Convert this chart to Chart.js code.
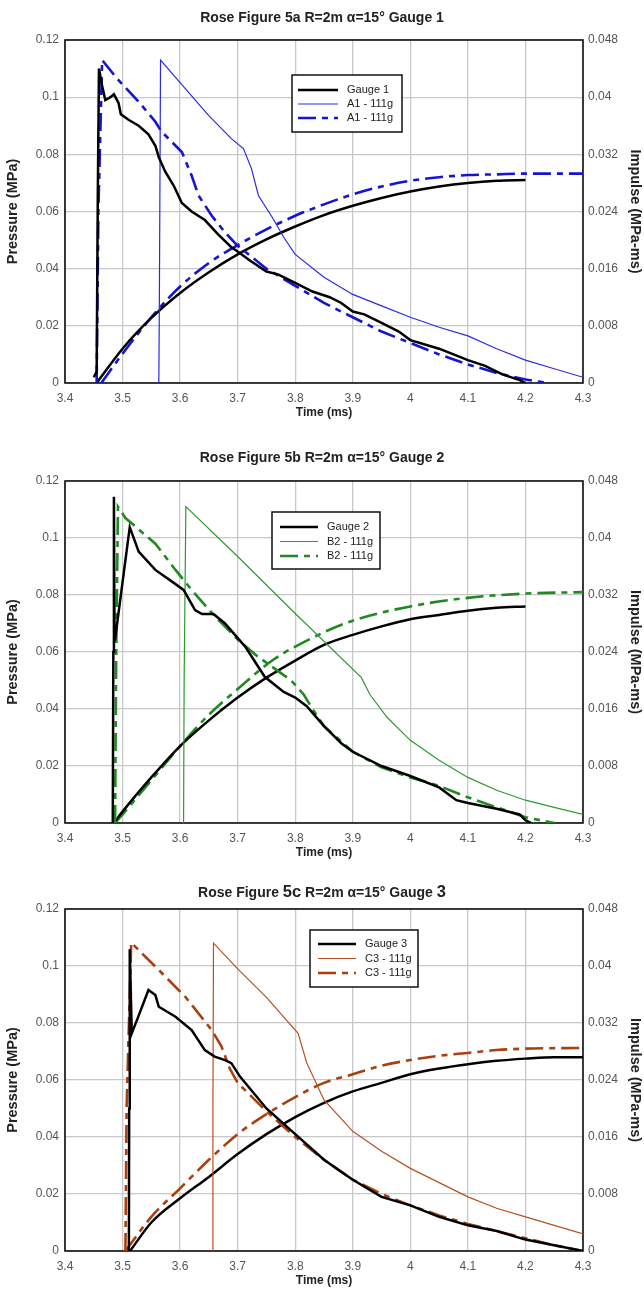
<!DOCTYPE html>
<html><head><meta charset="utf-8">
<script src="https://cdn.jsdelivr.net/npm/chart.js@4.4.1/dist/chart.umd.min.js"></script>
<style>
html,body{margin:0;padding:0;background:#fff;}
body{width:644px;height:1290px;position:relative;overflow:hidden;}
canvas{position:absolute;left:0;}
</style></head><body>
<canvas id="c1" width="644" height="423" style="top:0px;width:644px;height:423px"></canvas>
<canvas id="c2" width="644" height="422" style="top:441px;width:644px;height:422px"></canvas>
<canvas id="c3" width="644" height="420" style="top:871px;width:644px;height:420px"></canvas>
<script>
// ---- tick values / labels ----
const xTickValues = [3.4,3.5,3.6,3.7,3.8,3.9,4.0,4.1,4.2,4.3];
const xTickLabels = ["3.4","3.5","3.6","3.7","3.8","3.9","4","4.1","4.2","4.3"];
const pressureTicks = [0,0.02,0.04,0.06,0.08,0.1,0.12];
const pressureTickLabels = ["0","0.02","0.04","0.06","0.08","0.1","0.12"];
const impulseTicks = [0,0.008,0.016,0.024,0.032,0.04,0.048];
const impulseTickLabels = ["0","0.008","0.016","0.024","0.032","0.04","0.048"];

// ---- titles (segments: text, font size) / legends ----
const title1 = [["Rose Figure 5a R=2m \u03b1=15\u00b0 Gauge 1", 14]];
const title2 = [["Rose Figure 5b R=2m \u03b1=15\u00b0 Gauge 2", 14]];
const title3 = [["Rose Figure ", 14], ["5c", 16.5], [" R=2m \u03b1=15\u00b0 Gauge ", 14], ["3", 16.5]];
const labels1 = ["Gauge 1","A1 - 111g","A1 - 111g"];
const labels2 = ["Gauge 2","B2 - 111g","B2 - 111g"];
const labels3 = ["Gauge 3","C3 - 111g","C3 - 111g"];

// ---- Figure 5a data: [time ms, pressure MPa] / [time ms, impulse MPa-ms] ----
const gauge1Pressure = [[3.450,0.002],[3.455,0.004],[3.457,0.066],[3.459,0.110],[3.4645,0.104],[3.470,0.099],[3.479,0.100],[3.485,0.101],[3.493,0.098],[3.497,0.094],[3.511,0.092],[3.528,0.090],[3.545,0.087],[3.557,0.083],[3.563,0.079],[3.574,0.074],[3.589,0.069],[3.603,0.063],[3.620,0.060],[3.643,0.057],[3.666,0.052],[3.689,0.0475],[3.70,0.046],[3.72,0.043],[3.75,0.039],[3.77,0.038],[3.80,0.035],[3.83,0.032],[3.86,0.030],[3.88,0.028],[3.90,0.025],[3.92,0.024],[3.95,0.021],[3.98,0.018],[4.00,0.015],[4.05,0.012],[4.10,0.008],[4.13,0.006],[4.16,0.003],[4.19,0.001],[4.20,0.0]];
const a1ThinPressure = [[3.563,0],[3.564,0.03],[3.566,0.113],[3.609,0.103],[3.649,0.0937],[3.689,0.0855],[3.710,0.082],[3.724,0.075],[3.736,0.0656],[3.76,0.058],[3.78,0.051],[3.80,0.045],[3.85,0.037],[3.90,0.031],[3.95,0.027],[4.00,0.023],[4.05,0.0195],[4.10,0.0165],[4.15,0.012],[4.20,0.008],[4.25,0.005],[4.30,0.002]];
const a1DashPressure = [[3.455,0],[3.458,0.06],[3.4645,0.113],[3.490,0.1066],[3.528,0.0984],[3.557,0.0914],[3.568,0.0879],[3.603,0.0808],[3.620,0.0726],[3.632,0.0656],[3.655,0.0585],[3.678,0.0527],[3.70,0.048],[3.75,0.040],[3.80,0.034],[3.85,0.028],[3.90,0.023],[3.95,0.018],[4.00,0.014],[4.05,0.010],[4.10,0.0065],[4.15,0.0035],[4.20,0.0012],[4.24,0.0]];
const gauge1Impulse = [[3.455,0],[3.50,0.0048],[3.55,0.0091],[3.60,0.0126],[3.65,0.0155],[3.70,0.018],[3.75,0.0201],[3.80,0.0219],[3.85,0.0235],[3.90,0.0248],[3.95,0.0259],[4.00,0.0268],[4.05,0.0275],[4.10,0.028],[4.15,0.0283],[4.20,0.0284]];
const a1DashImpulse = [[3.463,0],[3.50,0.0041],[3.55,0.0092],[3.60,0.0135],[3.65,0.0168],[3.70,0.0193],[3.75,0.0215],[3.80,0.0234],[3.85,0.025],[3.90,0.0264],[3.95,0.0275],[4.00,0.0283],[4.05,0.0288],[4.10,0.0291],[4.15,0.0292],[4.20,0.0293],[4.30,0.0293]];

// ---- Figure 5b data ----
const gauge2Pressure = [[3.483,0],[3.484,0.06],[3.485,0.1145],[3.486,0.068],[3.488,0.066],[3.5125,0.1038],[3.528,0.0952],[3.557,0.0888],[3.586,0.0847],[3.606,0.0818],[3.626,0.0747],[3.638,0.0733],[3.658,0.0733],[3.678,0.070],[3.713,0.0619],[3.747,0.0513],[3.78,0.046],[3.80,0.044],[3.82,0.041],[3.85,0.034],[3.88,0.028],[3.90,0.025],[3.95,0.020],[4.00,0.0165],[4.05,0.0125],[4.08,0.008],[4.10,0.007],[4.15,0.005],[4.19,0.003],[4.20,0.001],[4.21,0]];
const b2ThinPressure = [[3.606,0],[3.607,0.05],[3.61,0.111],[3.70,0.0935],[3.80,0.0735],[3.915,0.051],[3.93,0.045],[3.96,0.037],[4.00,0.029],[4.05,0.022],[4.10,0.016],[4.15,0.0115],[4.20,0.008],[4.25,0.0055],[4.30,0.003]];
const b2DashPressure = [[3.487,0],[3.489,0.06],[3.492,0.111],[3.505,0.107],[3.557,0.098],[3.592,0.0888],[3.620,0.0818],[3.661,0.0724],[3.701,0.0642],[3.735,0.0584],[3.793,0.050],[3.815,0.045],[3.83,0.040],[3.85,0.034],[3.90,0.025],[3.95,0.0195],[4.00,0.016],[4.05,0.013],[4.10,0.009],[4.15,0.0055],[4.20,0.002],[4.25,0]];
const gauge2Impulse = [[3.485,0],[3.50,0.0016],[3.55,0.0064],[3.60,0.0108],[3.65,0.0144],[3.70,0.0176],[3.75,0.0204],[3.80,0.0228],[3.85,0.025],[3.90,0.0264],[3.95,0.0276],[4.00,0.0286],[4.05,0.0292],[4.10,0.0298],[4.15,0.0302],[4.20,0.0304]];
const b2DashImpulse = [[3.487,0],[3.50,0.0012],[3.55,0.006],[3.60,0.0108],[3.65,0.0152],[3.70,0.0188],[3.76,0.0228],[3.83,0.026],[3.90,0.0284],[4.00,0.0304],[4.10,0.0316],[4.20,0.0322],[4.30,0.0324]];

// ---- Figure 5c data ----
const gauge3Pressure = [[3.511,0],[3.5115,0.05],[3.5125,0.1059],[3.516,0.0764],[3.525,0.081],[3.545,0.0916],[3.557,0.0898],[3.563,0.0857],[3.592,0.0822],[3.620,0.0775],[3.643,0.0705],[3.660,0.0682],[3.678,0.067],[3.689,0.0659],[3.704,0.0612],[3.75,0.050],[3.80,0.041],[3.85,0.032],[3.90,0.025],[3.95,0.019],[4.00,0.016],[4.05,0.012],[4.10,0.009],[4.15,0.007],[4.20,0.004],[4.25,0.002],[4.30,0.0]];
const c3ThinPressure = [[3.656,0],[3.657,0.05],[3.658,0.108],[3.70,0.099],[3.75,0.089],[3.805,0.0764],[3.82,0.066],[3.85,0.053],[3.90,0.042],[3.95,0.035],[4.00,0.029],[4.05,0.024],[4.10,0.019],[4.15,0.015],[4.20,0.012],[4.25,0.009],[4.30,0.006]];
const c3DashPressure = [[3.505,0],[3.507,0.05],[3.515,0.1082],[3.563,0.0986],[3.609,0.0892],[3.655,0.0775],[3.672,0.0717],[3.686,0.0641],[3.70,0.059],[3.75,0.049],[3.80,0.040],[3.85,0.032],[3.90,0.025],[3.95,0.020],[4.00,0.016],[4.05,0.0125],[4.10,0.0095],[4.15,0.007],[4.20,0.0045],[4.25,0.002],[4.30,0.0]];
const gauge3Impulse = [[3.513,0],[3.55,0.004],[3.60,0.0074],[3.65,0.0104],[3.70,0.0136],[3.75,0.0164],[3.80,0.0188],[3.85,0.0208],[3.90,0.0224],[3.95,0.0236],[4.00,0.0248],[4.05,0.0256],[4.10,0.0262],[4.15,0.0267],[4.20,0.027],[4.25,0.0272],[4.30,0.0272]];
const c3DashImpulse = [[3.505,0],[3.55,0.0048],[3.60,0.0088],[3.65,0.0128],[3.70,0.0164],[3.75,0.0192],[3.80,0.0216],[3.85,0.0236],[3.90,0.0248],[3.95,0.026],[4.00,0.0268],[4.05,0.0274],[4.10,0.0278],[4.15,0.0282],[4.20,0.0284],[4.30,0.0285]];

const FONT = "'Liberation Sans', Arial, Helvetica, sans-serif";
Chart.defaults.font.family = FONT;

const toXY = arr => arr.map(p => ({x: p[0], y: p[1]}));

const framePlugin = {
  id: 'frame',
  beforeDatasetsDraw(chart) {
    const a = chart.chartArea, ctx = chart.ctx;
    ctx.save();
    ctx.lineWidth = 1.6;
    ctx.strokeStyle = '#111';
    ctx.strokeRect(a.left, a.top, a.right - a.left, a.bottom - a.top);
    ctx.restore();
  }
};

const segTitle = {
  id: 'segTitle',
  afterDraw(chart, args, o) {
    const ctx = chart.ctx;
    ctx.save();
    ctx.fillStyle = '#222';
    ctx.textBaseline = 'alphabetic';
    ctx.textAlign = 'left';
    let total = 0;
    o.segments.forEach(s => { ctx.font = 'bold ' + s[1] + 'px ' + FONT; total += ctx.measureText(s[0]).width; });
    let x = o.cx - total / 2;
    o.segments.forEach(s => {
      ctx.font = 'bold ' + s[1] + 'px ' + FONT;
      ctx.fillText(s[0], x, o.baseline);
      x += ctx.measureText(s[0]).width;
    });
    ctx.restore();
  }
};

const boxLegend = {
  id: 'boxLegend',
  afterDatasetsDraw(chart, args, o) {
    const ctx = chart.ctx;
    ctx.save();
    ctx.fillStyle = '#fff';
    ctx.fillRect(o.x, o.y, o.w, o.h);
    ctx.lineWidth = 1.5; ctx.strokeStyle = '#111'; ctx.setLineDash([]);
    ctx.strokeRect(o.x, o.y, o.w, o.h);
    o.items.forEach((di, i) => {
      const ds = chart.data.datasets[di];
      const yy = o.y + o.firstRow + i * o.rowGap;
      ctx.beginPath();
      ctx.setLineDash(ds.borderDash || []);
      ctx.lineWidth = ds.borderWidth; ctx.strokeStyle = ds.borderColor;
      ctx.moveTo(o.x + o.lineX0, yy); ctx.lineTo(o.x + o.lineX1, yy); ctx.stroke();
      ctx.setLineDash([]);
      ctx.fillStyle = '#222'; ctx.font = "11px " + FONT; ctx.textBaseline = 'middle'; ctx.textAlign = 'left';
      ctx.fillText(ds.label, o.x + o.textX, yy);
    });
    ctx.restore();
  }
};

function makeChart(id, title, titleCenterY, padTop, labels, colThin, colDash, gP, tP, dP, gI, dI, legendPos) {
  const DASH = [18, 6, 6, 6];
  return new Chart(document.getElementById(id), {
    type: 'line',
    data: { datasets: [
      {label: labels[0], data: toXY(gP), borderColor: '#000', borderWidth: 2.5, yAxisID: 'y'},
      {label: labels[1], data: toXY(tP), borderColor: colThin, borderWidth: 1.2, yAxisID: 'y'},
      {label: labels[2], data: toXY(dP), borderColor: colDash, borderWidth: 2.6, borderDash: DASH, yAxisID: 'y'},
      {label: labels[0] + ' impulse', data: toXY(gI), borderColor: '#000', borderWidth: 2.5, yAxisID: 'y2', cubicInterpolationMode: 'monotone'},
      {label: labels[2] + ' impulse', data: toXY(dI), borderColor: colDash, borderWidth: 2.6, borderDash: DASH, yAxisID: 'y2', cubicInterpolationMode: 'monotone'}
    ]},
    options: {
      responsive: false, animation: false,
      layout: { padding: { top: padTop, left: 0, right: 0, bottom: 0 } },
      elements: { point: { radius: 0 }, line: { tension: 0, fill: false, borderCapStyle: 'butt' } },
      plugins: {
        legend: { display: false }, tooltip: { enabled: false }, title: { display: false },
        segTitle: { segments: title, cx: 322, baseline: titleCenterY + 5 },
        boxLegend: legendPos
      },
      scales: {
        x: {
          type: 'linear', min: 3.4, max: 4.3,
          afterBuildTicks: s => { s.ticks = xTickValues.map(v => ({value: v})); },
          afterFit: s => { s.height = 40; },
          ticks: { padding: 8, color: '#555', font: { size: 12 }, maxRotation: 0, autoSkip: false, callback: (v, i) => xTickLabels[i] },
          grid: { color: '#c8c8c8', lineWidth: 1.3, drawTicks: false },
          border: { display: false },
          title: { display: true, text: 'Time (ms)', color: '#222', font: { size: 12, weight: 'bold' }, padding: { top: 0, bottom: 3 } }
        },
        y: {
          position: 'left', min: 0, max: 0.12,
          afterBuildTicks: s => { s.ticks = pressureTicks.map(v => ({value: v})); },
          afterFit: s => { s.width = 65; },
          ticks: { padding: 6, color: '#555', font: { size: 12 }, callback: (v, i) => pressureTickLabels[i] },
          grid: { color: '#c8c8c8', lineWidth: 1.3, drawTicks: false },
          border: { display: false },
          title: { display: true, text: 'Pressure (MPa)', color: '#222', font: { size: 14.5, weight: 'bold' }, padding: { top: 4, bottom: 0 } }
        },
        y2: {
          position: 'right', min: 0, max: 0.048,
          afterBuildTicks: s => { s.ticks = impulseTicks.map(v => ({value: v})); },
          afterFit: s => { s.width = 61; },
          ticks: { padding: 5, color: '#555', font: { size: 12 }, callback: (v, i) => impulseTickLabels[i] },
          grid: { display: false, drawTicks: false },
          border: { display: false },
          title: { display: true, text: 'Impulse (MPa-ms)', color: '#222', font: { size: 14.5, weight: 'bold' }, padding: { top: 0, bottom: 0 } }
        }
      }
    },
    plugins: [framePlugin, boxLegend, segTitle]
  });
}

makeChart('c1', title1, 17, 40, labels1, '#2a2ae6', '#1414d2', gauge1Pressure, a1ThinPressure, a1DashPressure, gauge1Impulse, a1DashImpulse,
  {x: 292, y: 75, w: 110, h: 57, firstRow: 15, rowGap: 14, lineX0: 6, lineX1: 46, textX: 55, items: [0,1,2]});
makeChart('c2', title2, 16, 40, labels2, '#2e9a2e', '#1f8a1f', gauge2Pressure, b2ThinPressure, b2DashPressure, gauge2Impulse, b2DashImpulse,
  {x: 272, y: 71, w: 108, h: 57, firstRow: 15, rowGap: 14.5, lineX0: 8, lineX1: 46, textX: 55, items: [0,1,2]});
makeChart('c3', title3, 21, 38, labels3, '#b5501e', '#a8400f', gauge3Pressure, c3ThinPressure, c3DashPressure, gauge3Impulse, c3DashImpulse,
  {x: 310, y: 59, w: 108, h: 57, firstRow: 14, rowGap: 14.5, lineX0: 8, lineX1: 46, textX: 55, items: [0,1,2]});
</script>
</body></html>
